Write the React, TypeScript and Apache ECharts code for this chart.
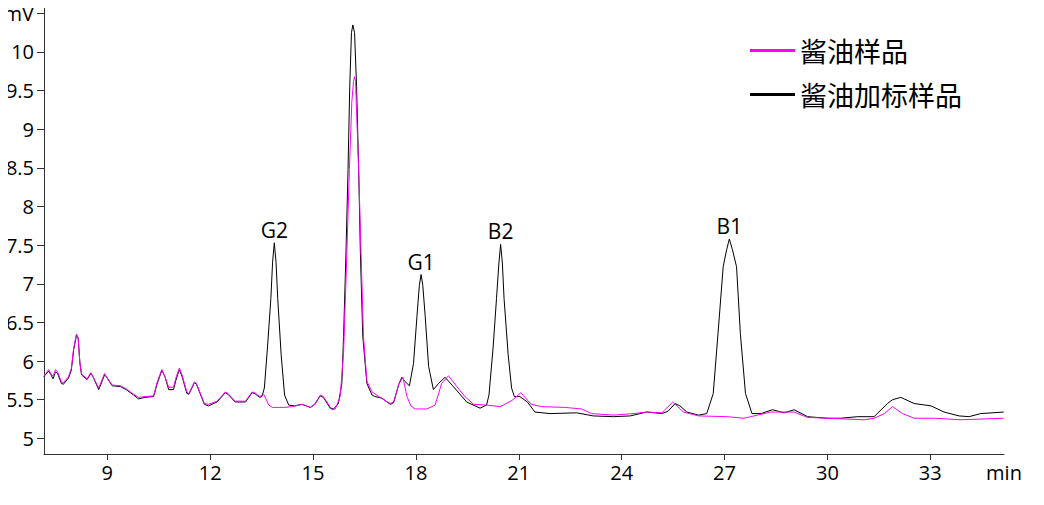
import React, { useEffect, useRef } from "react";
import * as echarts from "echarts";

// 酱油加标样品 (spiked sample) — black trace
const spikedTime = [
  7.15, 7.29, 7.36, 7.42, 7.49, 7.55, 7.66, 7.72, 7.87, 7.95, 8.02, 8.1, 8.15, 8.2, 8.25, 8.41, 8.52, 8.58, 8.75, 8.92,
  8.97, 9.14, 9.38, 9.55, 9.77, 9.91, 10.1, 10.35, 10.45, 10.59, 10.68, 10.79, 10.93, 11.0, 11.1, 11.18, 11.32, 11.38,
  11.54, 11.6, 11.83, 11.95, 12.2, 12.44, 12.52, 12.73, 13.03, 13.22, 13.3, 13.44, 13.51, 13.58, 13.67, 13.77, 13.82,
  13.87, 13.92, 13.97, 14.07, 14.17, 14.29, 14.45, 14.68, 14.92, 15.05, 15.21, 15.3, 15.5, 15.6, 15.74, 15.84, 15.89,
  15.96, 16.02, 16.07, 16.12, 16.16, 16.21, 16.27, 16.33, 16.38, 16.45, 16.57, 16.72, 16.81, 17.01, 17.25, 17.35, 17.5,
  17.59, 17.67, 17.81, 17.93, 18.03, 18.1, 18.15, 18.2, 18.27, 18.37, 18.51, 18.66, 18.85, 19.09, 19.48, 19.87, 20.06,
  20.13, 20.25, 20.35, 20.42, 20.47, 20.52, 20.57, 20.69, 20.79, 20.87, 21.03, 21.25, 21.47, 21.91, 22.69, 23.17, 23.76,
  24.25, 24.73, 25.17, 25.35, 25.56, 25.7, 25.9, 26.24, 26.48, 26.67, 26.81, 26.96, 27.06, 27.14, 27.23, 27.35, 27.46,
  27.61, 27.8, 28.06, 28.4, 28.74, 29.03, 29.42, 30.0, 30.39, 30.88, 31.36, 31.75, 31.9, 32.14, 32.53, 33.02, 33.4,
  33.84, 34.13, 34.47, 35.14,
];
const spikedSignal = [
  5.8, 5.87, 5.82, 5.77, 5.86, 5.84, 5.71, 5.7, 5.78, 5.88, 6.15, 6.33, 6.3, 5.98, 5.82, 5.76, 5.84, 5.8, 5.63, 5.82,
  5.8, 5.68, 5.67, 5.63, 5.56, 5.51, 5.53, 5.54, 5.7, 5.88, 5.8, 5.63, 5.63, 5.75, 5.89, 5.8, 5.58, 5.57,
  5.72, 5.7, 5.44, 5.42, 5.47, 5.59, 5.57, 5.47, 5.47, 5.59, 5.58, 5.53, 5.54, 5.65, 6.17, 6.81, 7.28,
  7.53, 7.28, 6.81, 6.08, 5.56, 5.43, 5.42, 5.44, 5.4, 5.44, 5.55, 5.53, 5.39, 5.38, 5.45, 5.71, 6.32,
  7.4, 8.48, 9.55, 10.25, 10.35, 10.25, 9.55, 8.48, 7.4, 6.32, 5.71, 5.56, 5.54, 5.52, 5.44, 5.46, 5.7,
  5.79, 5.74, 5.68, 5.97, 6.58, 6.98, 7.12, 6.98, 6.58, 5.93, 5.63, 5.71, 5.79, 5.67, 5.47, 5.39, 5.43,
  5.56, 6.17, 6.81, 7.27, 7.51, 7.27, 6.81, 6.08, 5.65, 5.54, 5.54, 5.47, 5.34, 5.32, 5.33, 5.29, 5.28,
  5.29, 5.34, 5.32, 5.35, 5.45, 5.42, 5.34, 5.3, 5.32, 5.58, 6.36, 7.22, 7.44, 7.58, 7.44, 7.22, 6.36,
  5.58, 5.32, 5.32, 5.37, 5.33, 5.37, 5.28, 5.26, 5.26, 5.28, 5.28, 5.45, 5.5, 5.53, 5.45, 5.42, 5.34,
  5.29, 5.28, 5.32, 5.34,
];

// 酱油样品 (sample) — magenta trace
const sampleTime = [
  7.15, 7.29, 7.36, 7.42, 7.49, 7.55, 7.66, 7.72, 7.87, 7.95, 8.02, 8.1, 8.15, 8.2, 8.25, 8.41, 8.52, 8.58, 8.75, 8.92,
  8.97, 9.14, 9.38, 9.55, 9.77, 9.91, 10.1, 10.35, 10.45, 10.59, 10.68, 10.79, 10.93, 11.0, 11.1, 11.18, 11.32, 11.38,
  11.54, 11.6, 11.83, 11.95, 12.2, 12.44, 12.52, 12.73, 13.03, 13.22, 13.3, 13.44, 13.56, 13.71, 13.81, 14.14, 14.4,
  14.68, 14.92, 15.05, 15.21, 15.3, 15.55, 15.65, 15.79, 15.89, 15.97, 16.06, 16.13, 16.18, 16.21, 16.24, 16.26, 16.33,
  16.4, 16.47, 16.57, 16.72, 17.06, 17.25, 17.35, 17.5, 17.62, 17.74, 17.85, 17.98, 18.32, 18.56, 18.75, 18.95, 19.19,
  19.43, 19.68, 20.07, 20.46, 20.8, 21.06, 21.36, 21.66, 22.34, 22.83, 23.12, 23.76, 24.35, 24.73, 25.17, 25.49, 25.8,
  26.24, 27.08, 27.56, 27.76, 28.35, 29.03, 29.42, 30.0, 31.07, 31.36, 31.66, 31.9, 32.19, 32.53, 33.12, 33.89, 35.14,
];
const sampleSignal = [
  5.8, 5.89, 5.83, 5.8, 5.89, 5.86, 5.73, 5.72, 5.8, 5.9, 6.17, 6.35, 6.3, 5.98, 5.83, 5.77, 5.85, 5.8, 5.65, 5.84,
  5.8, 5.69, 5.68, 5.64, 5.57, 5.53, 5.54, 5.55, 5.72, 5.89, 5.8, 5.66, 5.66, 5.78, 5.91, 5.82, 5.6, 5.58,
  5.73, 5.71, 5.45, 5.44, 5.48, 5.6, 5.58, 5.48, 5.48, 5.6, 5.59, 5.54, 5.57, 5.43, 5.4, 5.4, 5.41,
  5.44, 5.4, 5.44, 5.56, 5.54, 5.37, 5.38, 5.54, 6.1, 7.18, 8.48, 9.35, 9.62, 9.68, 9.62, 9.35, 8.48,
  7.4, 6.32, 5.74, 5.6, 5.5, 5.45, 5.47, 5.7, 5.79, 5.54, 5.42, 5.38, 5.38, 5.43, 5.71, 5.81, 5.67,
  5.54, 5.44, 5.43, 5.41, 5.49, 5.59, 5.44, 5.41, 5.4, 5.38, 5.32, 5.3, 5.32, 5.34, 5.33, 5.47, 5.34,
  5.29, 5.28, 5.26, 5.28, 5.34, 5.34, 5.27, 5.26, 5.24, 5.26, 5.32, 5.41, 5.32, 5.26, 5.26, 5.24, 5.26,
];

const peakNames = ["G2", "G1", "B2", "B1"];
const peakTimes = [13.87, 18.15, 20.47, 27.14];

const yTickValues = [5, 5.5, 6, 6.5, 7, 7.5, 8, 8.5, 9, 9.5, 10, 10.5];
const xTickValues = [9, 12, 15, 18, 21, 24, 27, 30, 33];
const xAxisMin = 7.154;
const xAxisMax = 35.149;
const yAxisMin = 4.797;
const yAxisMax = 10.595;

const seriesNames = ["酱油样品", "酱油加标样品"];

const NUM_FONT = "'Open Sans', 'Noto Sans', sans-serif";
const CJK_FONT = "'Noto Sans CJK SC', sans-serif";

export default function App() {
  const ref = useRef<HTMLDivElement>(null);

  useEffect(() => {
    if (!ref.current) return;
    const chart = echarts.init(ref.current, null, { renderer: "svg" });

    const spiked = spikedTime.map((t, i) => [t, spikedSignal[i]]);
    const sample = sampleTime.map((t, i) => [t, sampleSignal[i]]);
    const peaks = peakNames.map((name, i) => {
      const idx = spikedTime.indexOf(peakTimes[i]);
      return { name, coord: [peakTimes[i], spikedSignal[idx]] };
    });

    chart.setOption({
      animation: false,
      grid: {
        left: 44,
        right: 40,
        top: 6,
        bottom: 51,
        containLabel: false,
        outerBoundsMode: "none",
      },
      legend: {
        orient: "vertical",
        left: 745,
        top: 32,
        itemWidth: 45,
        itemHeight: 3,
        itemGap: 17,
        icon: "rect",
        data: seriesNames,
        textStyle: { fontFamily: CJK_FONT, fontSize: 27, color: "#000" },
      },
      xAxis: {
        type: "value",
        min: xAxisMin,
        max: xAxisMax,
        axisLine: { show: true, onZero: false, lineStyle: { color: "#333", width: 1 } },
        axisTick: { show: true, length: 6, customValues: xTickValues, lineStyle: { color: "#333" } },
        axisLabel: {
          customValues: [...xTickValues, xAxisMax],
          formatter: (v: number) => (Math.abs(v - xAxisMax) < 1e-6 ? "min" : String(v)),
          fontFamily: NUM_FONT,
          fontSize: 20,
          color: "#000",
          margin: 8,
          hideOverlap: false,
        },
        splitLine: { show: false },
      },
      yAxis: {
        type: "value",
        min: yAxisMin,
        max: yAxisMax,
        axisLine: { show: true, onZero: false, lineStyle: { color: "#333", width: 1 } },
        axisTick: { show: true, length: 7, customValues: yTickValues, lineStyle: { color: "#333" } },
        axisLabel: {
          customValues: yTickValues,
          formatter: (v: number) => (Math.abs(v - 10.5) < 1e-6 ? "mV" : String(v)),
          fontFamily: NUM_FONT,
          fontSize: 20,
          color: "#000",
          margin: 10,
          align: "right",
          overflow: "none",
          hideOverlap: false,
        },
        splitLine: { show: false },
      },
      series: [
        {
          name: seriesNames[1],
          type: "line",
          data: spiked,
          showSymbol: false,
          symbol: "none",
          lineStyle: { color: "#000", width: 1 },
          itemStyle: { color: "#000" },
          z: 2,
          markPoint: {
            symbol: "circle",
            symbolSize: 1,
            itemStyle: { color: "rgba(0,0,0,0)" },
            label: {
              show: true,
              position: "top",
              distance: 2,
              formatter: "{b}",
              fontFamily: NUM_FONT,
              fontSize: 21,
              color: "#000",
            },
            data: peaks,
          },
        },
        {
          name: seriesNames[0],
          type: "line",
          data: sample,
          showSymbol: false,
          symbol: "none",
          lineStyle: { color: "#ff00ff", width: 1 },
          itemStyle: { color: "#ff00ff" },
          z: 3,
        },
      ],
    });

    return () => chart.dispose();
  }, []);

  return <div ref={ref} style={{ width: 1044, height: 505, margin: -8 }} />;
}
